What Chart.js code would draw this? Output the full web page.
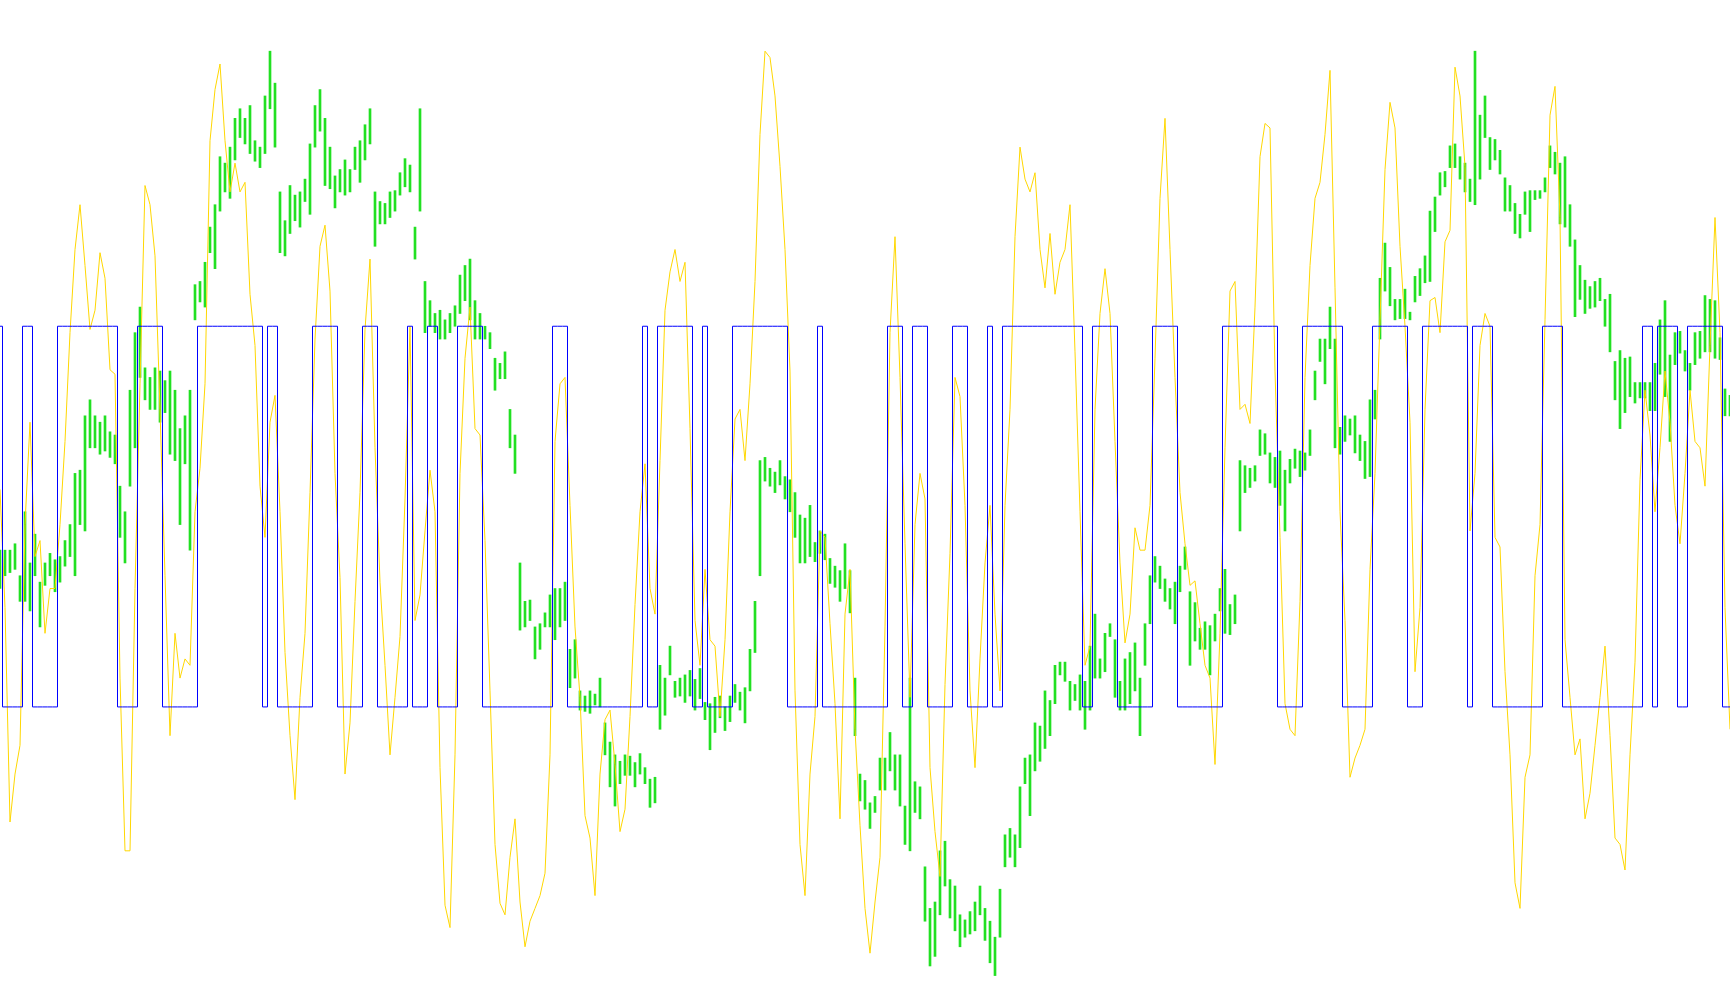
<!DOCTYPE html>
<html>
<head>
<meta charset="utf-8">
<script src="https://cdn.jsdelivr.net/npm/chart.js@4.4.1/dist/chart.umd.min.js"></script>
<style>
  html, body { margin: 0; padding: 0; background: #fff; }
  #wrap { width: 1730px; height: 1005px; }
</style>
</head>
<body>
<div id="wrap"><canvas id="chart"></canvas></div>
<script>
// bar ranges (low / high), in price points
const greenLow = [
  680,700,705,710,660,660,645,700,620,685,
  700,675,690,715,730,700,780,770,900,900,
  890,895,885,875,760,720,840,900,1010,975,
  960,960,940,955,890,880,780,875,740,1100,
  1128,1120,1205,1180,1270,1300,1290,1350,1385,1375,
  1360,1348,1338,1360,1430,1370,1205,1200,1235,1255,
  1245,1285,1265,1370,1395,1310,1305,1275,1300,1295,
  1300,1335,1315,1350,1375,1215,1250,1250,1260,1270,
  1295,1308,1300,1195,1270,1080,1090,1080,1070,1070,
  1080,1090,1110,1130,1100,1070,1070,1070,1055,990,
  1008,1008,900,860,615,620,630,570,585,620,
  620,600,620,630,525,540,490,488,485,498,
  495,420,370,340,375,388,388,370,390,375,
  338,345,460,482,545,510,512,502,512,490,
  508,475,428,455,478,458,472,502,490,470,
  520,580,700,848,840,830,842,820,800,760,
  720,720,730,722,735,725,688,682,660,680,
  642,450,348,335,305,330,365,365,395,365,
  340,280,270,330,320,160,90,105,170,215,
  165,145,120,135,140,145,170,130,95,75,
  135,245,260,245,275,375,325,395,410,430,
  450,500,545,535,490,505,490,460,490,540,
  540,550,605,510,490,490,500,520,450,560,
  625,690,680,660,648,625,675,710,560,598,
  585,585,545,598,645,610,608,625,770,830,
  838,848,888,890,845,838,810,770,845,868,
  855,865,888,975,1035,1000,1055,900,890,910,
  920,892,880,852,855,945,1070,1145,1122,1100,
  1102,1102,1100,1128,1138,1158,1160,1238,1295,1308,
  1338,1338,1320,1300,1285,1280,1320,1385,1335,1350,
  1328,1270,1270,1235,1228,1265,1238,1288,1290,1300,
  1338,1328,1250,1245,1215,1105,1132,1110,1118,1120,
  1130,1090,1050,975,930,955,980,970,978,978,
  958,958,1015,980,910,1030,1048,1020,990,1030,
  1040,1050,1050,1040,1038,950,950
];
const greenHigh = [
  740,740,740,750,700,800,720,765,690,720,
  735,725,730,755,780,860,865,950,975,950,
  940,950,925,920,840,800,990,1080,1120,1025,
  1010,1025,1020,1005,1020,990,930,950,990,1155,
  1160,1190,1245,1280,1355,1345,1370,1415,1430,1415,
  1435,1380,1370,1450,1520,1470,1300,1255,1310,1295,
  1300,1320,1375,1435,1460,1415,1370,1325,1335,1350,
  1335,1370,1380,1405,1430,1300,1285,1282,1300,1302,
  1330,1352,1342,1245,1430,1160,1130,1110,1115,1100,
  1110,1122,1170,1185,1195,1130,1110,1090,1080,1040,
  1032,1050,960,920,720,660,662,620,625,642,
  670,680,680,690,585,600,520,512,520,515,
  540,470,440,420,410,420,418,408,422,400,
  382,385,560,540,590,535,540,545,552,538,
  555,502,500,510,512,495,512,530,518,525,
  585,660,880,885,868,862,880,855,850,830,
  795,790,810,752,770,765,727,715,708,750,
  708,540,390,380,345,355,415,415,455,420,
  420,340,540,378,370,245,180,190,270,285,
  225,215,170,162,175,190,215,180,160,135,
  210,295,305,295,370,415,420,470,465,520,
  505,560,565,565,535,530,545,535,590,640,
  570,610,625,600,535,570,580,595,540,625,
  700,730,715,695,680,690,715,745,675,658,
  618,628,622,640,680,710,655,670,880,872,
  868,872,928,922,892,885,895,865,882,898,
  895,892,928,1020,1070,1070,1120,1070,932,950,
  945,950,920,910,975,990,1165,1220,1182,1132,
  1132,1148,1112,1168,1180,1200,1270,1292,1330,1332,
  1372,1375,1355,1345,1320,1520,1420,1450,1385,1382,
  1365,1322,1310,1282,1265,1300,1302,1302,1302,1322,
  1372,1362,1345,1355,1280,1225,1185,1162,1152,1160,
  1165,1132,1140,1035,1052,1040,1042,1002,1002,1002,
  1002,1032,1100,1130,1045,1080,1082,1052,1032,1080,
  1082,1138,1132,1130,1072,992,982
];
// oscillator, same scale
const yellowLine = [
  835,650,315,390,435,780,940,730,755,610,
  680,680,780,910,1080,1210,1280,1185,1085,1115,
  1205,1165,1022,1015,540,270,270,680,1000,1310,
  1280,1200,960,700,450,610,540,570,560,800,
  868,1000,1380,1460,1500,1380,1300,1345,1300,1315,
  1140,1060,840,760,940,982,800,580,450,350,
  510,610,830,1070,1215,1248,1145,860,697,390,
  470,660,830,1085,1195,900,690,560,420,510,
  605,820,1090,630,670,770,865,800,400,185,
  150,420,860,1040,1120,930,920,755,520,280,
  188,170,260,320,190,120,160,180,200,235,
  420,910,1000,1010,810,620,510,325,290,200,
  390,475,490,405,300,335,480,655,800,875,
  680,640,880,1115,1175,1210,1160,1190,930,630,
  560,710,600,590,480,600,800,945,960,880,
  1000,1160,1390,1520,1510,1450,1340,1210,1020,520,
  280,200,390,480,770,760,625,500,320,640,
  710,460,310,180,110,190,260,620,1080,1230,
  1010,750,510,780,860,820,400,300,230,530,
  735,1010,980,810,520,400,570,720,810,640,
  520,810,960,1230,1370,1320,1300,1330,1210,1150,
  1235,1140,1190,1210,1280,1050,800,560,590,960,
  1110,1180,1110,910,720,595,640,775,740,740,
  810,1040,1290,1415,1210,1010,830,750,685,692,
  625,560,540,405,610,900,1145,1160,960,968,
  938,1120,1355,1407,1400,1020,760,500,460,450,
  660,1010,1185,1290,1315,1390,1490,1150,800,630,
  385,415,435,460,710,860,1100,1335,1440,1400,
  1215,1090,940,550,650,960,1130,1135,1080,1222,
  1240,1495,1450,1340,770,860,1060,1110,1090,760,
  745,550,420,220,180,385,420,700,780,1100,
  1420,1465,1260,600,510,420,445,320,360,435,
  510,590,450,290,280,240,420,565,850,990,
  920,800,900,1020,940,810,750,860,990,910,
  900,840,1060,1260,1080,650,460
];
// 1 = on, 0 = off
const blueSignal = [
  1,0,0,0,0,1,1,0,0,0,
  0,0,1,1,1,1,1,1,1,1,
  1,1,1,1,0,0,0,0,1,1,
  1,1,1,0,0,0,0,0,0,0,
  1,1,1,1,1,1,1,1,1,1,
  1,1,1,0,1,1,0,0,0,0,
  0,0,0,1,1,1,1,1,0,0,
  0,0,0,1,1,1,0,0,0,0,
  0,0,1,0,0,0,1,1,0,0,
  0,0,1,1,1,1,1,0,0,0,
  0,0,0,0,0,0,0,0,0,0,
  0,1,1,1,0,0,0,0,0,0,
  0,0,0,0,0,0,0,0,0,1,
  0,0,1,1,1,1,1,1,1,0,
  0,1,0,0,0,0,0,1,1,1,
  1,1,1,1,1,1,1,1,0,0,
  0,0,0,0,1,0,0,0,0,0,
  0,0,0,0,0,0,0,0,1,1,
  1,0,0,1,1,1,0,0,0,0,
  0,1,1,1,0,0,0,0,1,0,
  0,1,1,1,1,1,1,1,1,1,
  1,1,1,1,1,1,1,0,0,1,
  1,1,1,1,0,0,0,0,0,0,
  0,1,1,1,1,1,0,0,0,0,
  0,0,0,0,0,1,1,1,1,1,
  1,1,1,1,1,1,0,0,0,0,
  0,1,1,1,1,1,1,1,1,0,
  0,0,0,0,0,1,1,1,1,1,
  1,1,0,0,0,1,1,1,1,1,
  1,1,1,1,0,1,1,1,1,0,
  0,0,0,0,0,0,0,0,0,1,
  1,1,1,0,0,0,0,0,0,0,
  0,0,0,0,0,0,0,0,0,1,
  1,0,1,1,1,1,0,0,1,1,
  1,1,1,1,1,0,0
];
const barIndex = yellowLine.map((_, i) => i + 1);

const ctx = document.getElementById("chart");

new Chart(ctx, {
  type: "bar",
  data: {
    labels: barIndex,
    datasets: [
      {
        type: "line",
        label: "signal",
        data: blueSignal,
        yAxisID: "ySig",
        borderColor: "#0000ff",
        borderWidth: 1,
        pointRadius: 0,
        stepped: "middle",
        order: 1,
      },
      {
        type: "line",
        label: "oscillator",
        data: yellowLine,
        borderColor: "#ffd700",
        borderWidth: 1,
        pointRadius: 0,
        tension: 0,
        order: 2,
      },
      {
        type: "bar",
        label: "range",
        data: greenLow.map((lo, i) => [lo, greenHigh[i]]),
        backgroundColor: "#22e022",
        borderWidth: 0,
        barThickness: 2, // thin bars
        order: 3,
      },
    ],
  },
  options: {
    responsive: true,
    maintainAspectRatio: false,
    animation: false,
    layout: { padding: 0 },
    plugins: {
      legend: { display: false },
      tooltip: { enabled: false },
    },
    scales: {
      x: { display: false, offset: false, grid: { offset: false } },
      y: { display: false, min: 29, max: 1600 },
      ySig: { display: false, min: -0.783, max: 1.857 },
    },
  },
});
</script>
</body>
</html>
